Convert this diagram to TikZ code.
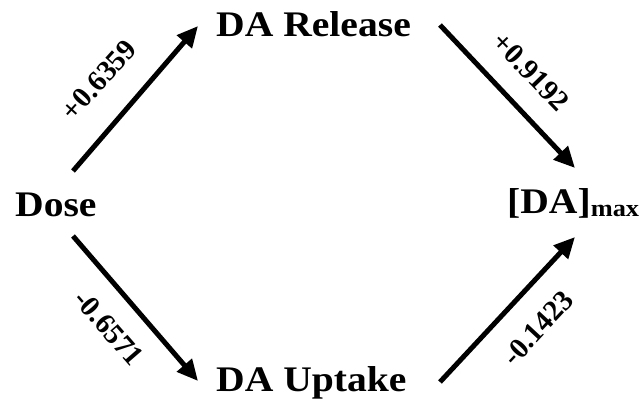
\documentclass[tikz,border=0pt]{standalone}
\usepackage{fontspec}
\setmainfont{Liberation Serif}
\usetikzlibrary{arrows.meta}
\newcommand{\widen}[1]{\scalebox{1.1}[1]{#1}}
\begin{document}
\begin{tikzpicture}[x=1pt,y=-1pt,
  term/.style={inner sep=0pt,anchor=base west,font=\bfseries\fontsize{36}{40}\selectfont},
  coef/.style={inner sep=0pt,font=\bfseries\fontsize{29}{32}\selectfont},
  link/.style={line width=5pt,-{Triangle[length=21pt,width=19pt]}}]
\useasboundingbox (0,0) rectangle (641,407);
% variables
\node[term] (dose) at (15,216) {\widen{Dose}};
\node[term] (rel)  at (216,36) {\widen{DA Release}};
\node[term] (upt)  at (216,391) {\widen{DA Uptake}};
\node[term] (max)  at (507,213) {\widen{[DA]\raisebox{-3pt}{\fontsize{24}{26}\selectfont\bfseries max}}};
% arrow end points
\coordinate (doseU) at (73,171);
\coordinate (doseD) at (73,236);
\coordinate (relL)  at (198,26);
\coordinate (relR)  at (440,25);
\coordinate (uptL)  at (198,381);
\coordinate (uptR)  at (440,382);
\coordinate (maxU)  at (575,168);
\coordinate (maxD)  at (575,237);
% paths
\draw[link] (doseU) -- (relL);
\draw[link] (relR) -- (maxU);
\draw[link] (doseD) -- (uptL);
\draw[link] (uptR) -- (maxD);
% path coefficients
\node[coef,rotate=48]  (c1) at (99,80)   {+0.6359};
\node[coef,rotate=-46] (c2) at (531,72)  {+0.9192};
\node[coef,rotate=-49] (c3) at (109,328) {-0.6571};
\node[coef,rotate=47]  (c4) at (538,328) {-0.1423};
\end{tikzpicture}
\end{document}
